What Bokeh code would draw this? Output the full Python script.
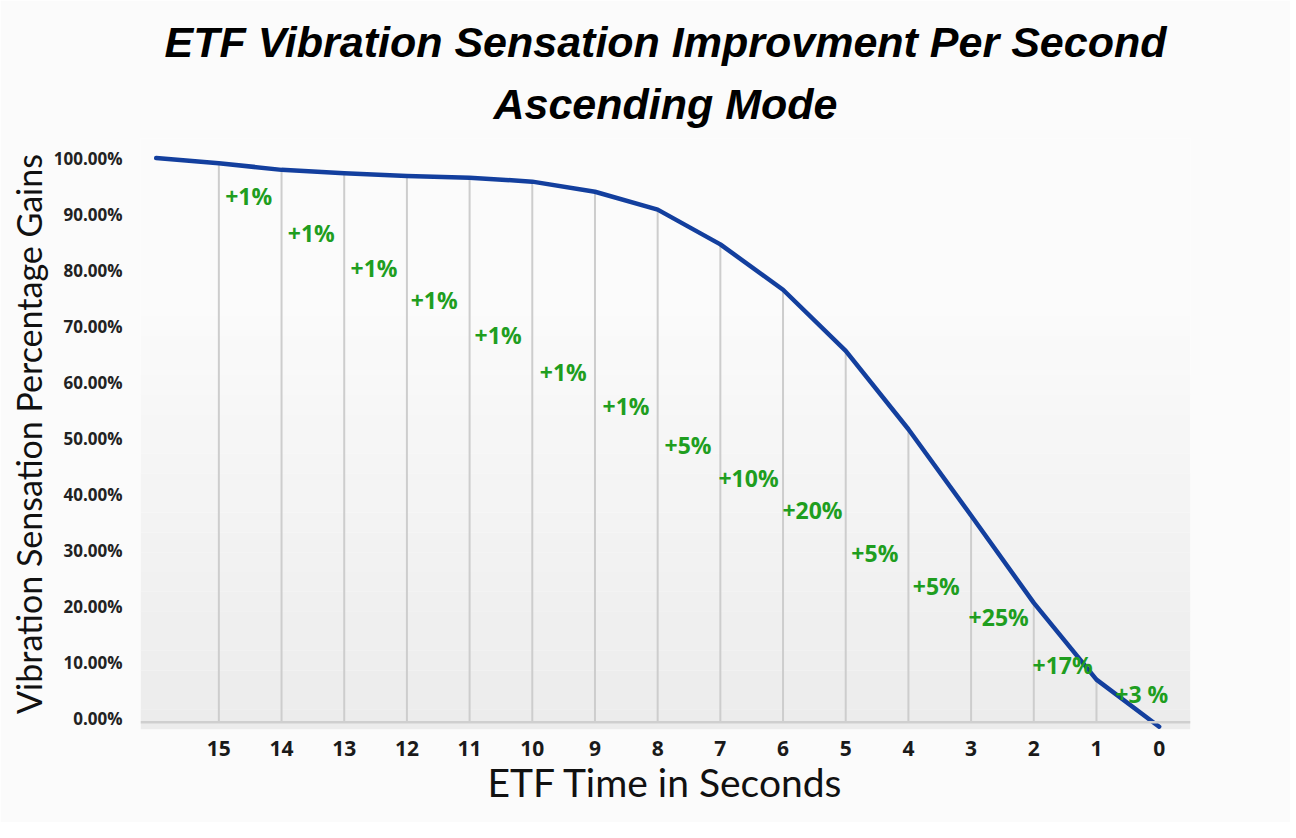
from bokeh.plotting import figure
from bokeh.models import (Range1d, FixedTicker, PrintfTickFormatter, Title,
                          ColumnDataSource, Span, BoxAnnotation, LabelSet)
from bokeh.core.properties import value
from bokeh.embed import file_html
from bokeh.resources import INLINE

# ---- data ----
seconds = [16, 15, 14, 13, 12, 11, 10, 9, 8, 7, 6, 5, 4, 3, 2, 1, 0]
sensation = [100.0, 99.1, 97.9, 97.3, 96.8, 96.5, 95.8, 94.0, 90.8, 84.6,
             76.5, 65.6, 51.6, 36.2, 20.6, 6.9, -1.5]

gain_labels = ["+1%", "+1%", "+1%", "+1%", "+1%", "+1%", "+1%", "+5%",
               "+10%", "+20%", "+5%", "+5%", "+25%", "+17%", "+3 %"]
gain_label_x = [14.90, 13.90, 12.90, 11.94, 10.92, 9.88, 8.88, 7.89,
                7.03, 6.01, 4.91, 3.93, 3.04, 2.02, 0.70]
gain_label_y = [93.2, 86.6, 80.4, 74.6, 68.4, 61.8, 55.7, 48.75,
                42.9, 37.1, 29.5, 23.6, 18.0, 9.6, 4.3]

x_ticks = list(range(0, 16))
y_ticks = list(range(0, 101, 10))

title_main = "ETF Vibration Sensation Improvment Per Second"
title_sub = "Ascending Mode"
x_title = "ETF Time in Seconds"
y_title = "Vibration Sensation Percentage Gains"

# ---- figure ----
Y0, Y1 = -2.0, 103.5
AXIS_Y = -0.7

p = figure(width=1290, height=822, x_range=Range1d(16.25, -0.5),
           y_range=Range1d(Y0, Y1), output_backend="svg",
           toolbar_location=None, title=title_main,
           min_border_left=140, min_border_right=100,
           min_border_top=138, min_border_bottom=93)

p.border_fill_color = "#fbfbfb"
p.background_fill_color = "#fbfbfb"
p.outline_line_color = None
p.xgrid.visible = False
p.ygrid.visible = False

# titles
p.title.align = "center"
p.title.text_font = "Liberation Sans"
p.title.text_font_style = "bold italic"
p.title.text_font_size = "43px"
p.title.text_color = "#000000"
p.title.standoff = 2
sub = Title(text=title_sub, align="center", text_font="Liberation Sans",
            text_font_style="bold italic", text_font_size="43px",
            text_color="#000000", standoff=22)
p.add_layout(sub, "above")

# soft vertical gradient in the plot area
N = 30
for i in range(N):
    b = Y0 + (Y1 - Y0) * i / N
    t = Y0 + (Y1 - Y0) * (i + 1) / N
    frac = i / (N - 1)
    g = int(round(236 + (251 - 236) * min(1.0, frac * 1.35)))
    p.add_layout(BoxAnnotation(bottom=b, top=t, fill_color=(g, g, g),
                               fill_alpha=1.0, line_alpha=0, level="underlay"))

# drop lines from axis to curve
drop_x = [s for s in seconds if 1 <= s <= 15]
drop_y = [v for s, v in zip(seconds, sensation) if 1 <= s <= 15]
p.segment(x0=drop_x, y0=AXIS_Y, x1=drop_x, y1=drop_y,
          line_color="#cdcdcd", line_width=2)

p.add_layout(Span(location=AXIS_Y, dimension="width",
                  line_color="#cfcfcf", line_width=2.5))

p.line(seconds, sensation, line_color="#133f9e", line_width=4.5,
       line_join="round", line_cap="round")

src = ColumnDataSource(dict(x=gain_label_x, y=gain_label_y, t=gain_labels))
p.add_layout(LabelSet(x="x", y="y", text="t", source=src,
                      text_align="left", text_baseline="middle",
                      text_color="#1f9e1f", text_font=value("Open Sans"),
                      text_font_style="bold", text_font_size="23px"))

# axes
xa = p.xaxis[0]
xa.ticker = FixedTicker(ticks=x_ticks)
xa.axis_line_color = None
xa.major_tick_line_color = None
xa.minor_tick_line_color = None
xa.major_label_text_font = "Open Sans"
xa.major_label_text_font_style = "bold"
xa.major_label_text_font_size = "21px"
xa.major_label_text_color = "#1a1a1a"
xa.major_label_standoff = 5
xa.axis_label = x_title
xa.axis_label_text_font = "Lato"
xa.axis_label_text_font_style = "normal"
xa.axis_label_text_font_size = "39px"
xa.axis_label_text_color = "#111111"
xa.axis_label_standoff = 0

ya = p.yaxis[0]
ya.ticker = FixedTicker(ticks=y_ticks)
ya.formatter = PrintfTickFormatter(format="%.2f%%")
ya.axis_line_color = None
ya.major_tick_line_color = None
ya.minor_tick_line_color = None
ya.major_label_text_font = "Open Sans"
ya.major_label_text_font_style = "bold"
ya.major_label_text_font_size = "17px"
ya.major_label_text_color = "#222222"
ya.major_label_standoff = 12
ya.axis_label = y_title
ya.axis_label_text_font = "Lato"
ya.axis_label_text_font_style = "normal"
ya.axis_label_text_font_size = "34px"
ya.axis_label_text_color = "#111111"
ya.axis_label_standoff = 2

open("out.html", "w").write(file_html(p, INLINE))
